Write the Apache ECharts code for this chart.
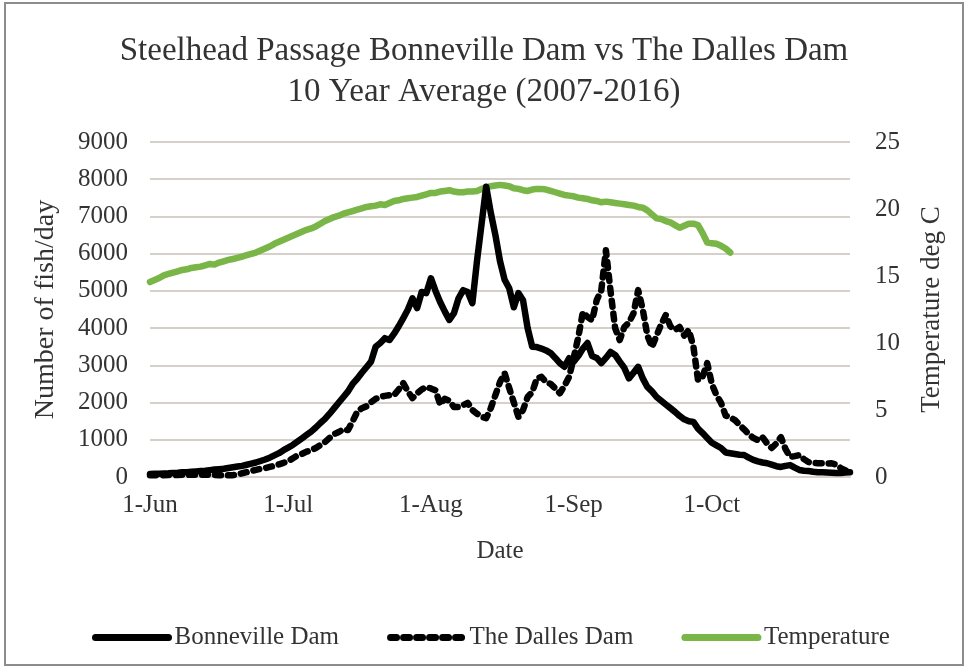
<!DOCTYPE html>
<html>
<head>
<meta charset="utf-8">
<script src="https://cdn.jsdelivr.net/npm/echarts@6/dist/echarts.min.js"></script>
<style>
  html, body { margin: 0; padding: 0; background: #fff; }
  #chart { width: 968px; height: 668px; }
</style>
</head>
<body>
<div id="chart"></div>
<script>
// month names and lengths, 1-Jun .. 31-Oct
var months = ['Jun', 'Jul', 'Aug', 'Sep', 'Oct'];
var monthDays = [30, 31, 31, 30, 31];

// fish per day, Bonneville Dam (one value per day)
var bonneville = [
  80, 85, 90, 95, 100, 110, 115, 125, 130, 140,
  150, 160, 170, 185, 200, 210, 220, 240, 260, 280,
  300, 330, 360, 390, 430, 470, 520, 580, 640, 720,
  790, 860, 950, 1040, 1130, 1220, 1330, 1450, 1560, 1700,
  1850, 2000, 2150, 2300, 2500, 2640, 2800, 2950, 3100, 3500,
  3600, 3730, 3680, 3850, 4050, 4270, 4500, 4800, 4540, 4970,
  4940, 5340, 5000, 4700, 4450, 4220, 4400, 4800, 5020, 4970,
  4670, 5800, 6800, 7800, 7100, 6500, 5800, 5300, 5070, 4560,
  4940, 4750, 4000, 3500, 3490, 3450, 3400, 3330, 3200, 3060,
  2960, 3190, 3100, 3250, 3450, 3600, 3250, 3200, 3060, 3200,
  3360, 3280, 3100, 2930, 2650, 2800, 2960, 2650, 2420, 2300,
  2150, 2050, 1950, 1850, 1750, 1640, 1550, 1500, 1480, 1300,
  1180, 1050, 920, 850, 780, 660, 640, 620, 600, 590,
  520, 460, 420, 390, 370, 330, 290, 270, 300, 320,
  250, 190, 170, 160, 140, 130, 125, 120, 115, 110,
  110, 120, 130
];

// fish per day, The Dalles Dam
var dalles = [
  50, 50, 45, 50, 55, 50, 55, 60, 55, 60,
  60, 60, 65, 60, 55, 50, 50, 45, 50, 70,
  100, 130, 160, 190, 220, 240, 270, 300, 340, 380,
  430, 500, 580, 620, 680, 720, 780, 860, 940, 1050,
  1150, 1210, 1280, 1260, 1500, 1750, 1850, 1900, 2010, 2100,
  2150, 2180, 2200, 2200, 2350, 2520, 2300, 2120, 2250, 2350,
  2420, 2380, 2330, 1950, 2100, 2050, 1880, 1880, 1930, 1990,
  1800, 1700, 1620, 1580, 1850, 2200, 2550, 2790, 2390, 2000,
  1620, 1800, 2150, 2280, 2650, 2690, 2550, 2500, 2380, 2250,
  2450, 2690, 3200, 3760, 4430, 4300, 4210, 4750, 5020, 6090,
  5000, 4000, 3680, 4030, 4150, 4400, 5020, 4500, 3800, 3490,
  3800, 4100, 4350, 4050, 3950, 4030, 3800, 3950, 3500, 2600,
  2700, 3060, 2500, 2200, 1990, 1650, 1600, 1530, 1400, 1280,
  1150, 1050, 990, 1070, 900, 780, 900, 1070, 750, 540,
  560, 590, 480, 400, 380, 370, 370, 360, 370, 330,
  240, 180, 130
];

// water temperature, deg C (ends early October)
var temperature = [
  14.55, 14.7, 14.85, 15.05, 15.15, 15.25, 15.35, 15.45, 15.5, 15.6,
  15.65, 15.7, 15.8, 15.9, 15.85, 16.0, 16.1, 16.2, 16.27, 16.35,
  16.45, 16.55, 16.65, 16.75, 16.9, 17.05, 17.2, 17.4, 17.55, 17.7,
  17.85, 18.0, 18.15, 18.3, 18.45, 18.55, 18.7, 18.9, 19.1, 19.25,
  19.4, 19.5, 19.65, 19.75, 19.85, 19.95, 20.05, 20.15, 20.2, 20.25,
  20.35, 20.3, 20.45, 20.6, 20.65, 20.75, 20.8, 20.85, 20.9, 21.0,
  21.1, 21.2, 21.2, 21.3, 21.35, 21.4, 21.3, 21.25, 21.25, 21.3,
  21.3, 21.35, 21.5, 21.6, 21.7, 21.75, 21.8, 21.75, 21.7, 21.55,
  21.5, 21.4, 21.35, 21.45, 21.5, 21.5, 21.45, 21.35, 21.25, 21.15,
  21.05, 21.0, 20.95, 20.85, 20.8, 20.75, 20.65, 20.6, 20.5, 20.55,
  20.5, 20.45, 20.4, 20.35, 20.3, 20.25, 20.15, 20.1, 19.9, 19.6,
  19.3, 19.25, 19.1, 19.0, 18.8, 18.6, 18.75, 18.9, 18.9, 18.8,
  18.2, 17.5, 17.45, 17.4, 17.25, 17.05, 16.75
];

var dates = [];
months.forEach(function (m, i) {
  for (var d = 1; d <= monthDays[i]; d++) dates.push(d + '-' + m);
});

var font = '"Liberation Serif", "DejaVu Serif", serif';
var txt = '#333';
var gridCol = '#d6d0cb';

var chart = echarts.init(document.getElementById('chart'));
chart.setOption({
  animation: false,
  backgroundColor: '#fff',
  textStyle: { fontFamily: font },
  graphic: [{
    type: 'rect',
    shape: { x: 5, y: 3, width: 958, height: 662 },
    style: { fill: 'none', stroke: '#8c8c8c', lineWidth: 2 }
  }],
  title: {
    text: 'Steelhead Passage Bonneville Dam vs The Dalles Dam\n10 Year Average (2007-2016)',
    left: 'center',
    top: 26,
    textStyle: { fontFamily: font, fontSize: 33, fontWeight: 'normal', color: txt, lineHeight: 41, align: 'center' }
  },
  legend: {
    left: 87,
    top: 620,
    itemWidth: 73,
    itemHeight: 14,
    itemGap: 48,
    itemStyle: { opacity: 0 },
    lineStyle: { width: 7 },
    textStyle: { fontFamily: font, fontSize: 25, color: txt, padding: [0, 0, 0, 1] },
    data: ['Bonneville Dam', 'The Dalles Dam', 'Temperature']
  },
  grid: { left: 150, right: 118, top: 142, bottom: 191 },
  xAxis: {
    type: 'category',
    data: dates,
    boundaryGap: false,
    name: 'Date',
    nameLocation: 'middle',
    nameGap: 62,
    nameTextStyle: { fontFamily: font, fontSize: 25, color: txt },
    axisLine: { lineStyle: { color: gridCol, width: 2 } },
    axisTick: { show: false },
    axisLabel: {
      interval: function (i, v) { return v.indexOf('1-') === 0; },
      fontFamily: font, fontSize: 25, color: txt, margin: 16
    },
    splitLine: { show: false }
  },
  yAxis: [{
    type: 'value',
    min: 0, max: 9000, interval: 1000,
    name: 'Number of fish/day',
    nameLocation: 'middle',
    nameGap: 90,
    nameTextStyle: { fontFamily: font, fontSize: 28, color: txt },
    axisLine: { show: false },
    axisTick: { show: false },
    axisLabel: {
      fontFamily: font, fontSize: 25, color: txt, margin: 22,
      formatter: function (v) { return String(v); }
    },
    splitLine: { lineStyle: { color: gridCol, width: 2 } }
  }, {
    type: 'value',
    min: 0, max: 25, interval: 5,
    name: 'Temperature deg C',
    nameLocation: 'middle',
    nameGap: 68,
    nameRotate: 90,
    nameTextStyle: { fontFamily: font, fontSize: 27, color: txt },
    axisLine: { show: false },
    axisTick: { show: false },
    axisLabel: { fontFamily: font, fontSize: 25, color: txt, margin: 25 },
    splitLine: { show: false }
  }],
  series: [{
    name: 'Bonneville Dam',
    type: 'line',
    data: bonneville,
    symbol: 'none',
    lineStyle: { color: '#000', width: 6.5, cap: 'round', join: 'round' },
    itemStyle: { color: '#000' },
    z: 3
  }, {
    name: 'The Dalles Dam',
    type: 'line',
    data: dalles,
    symbol: 'none',
    lineStyle: { color: '#000', width: 6.5, type: [6, 7], cap: 'round', join: 'round' },
    itemStyle: { color: '#000' },
    z: 2
  }, {
    name: 'Temperature',
    type: 'line',
    yAxisIndex: 1,
    data: temperature,
    symbol: 'none',
    lineStyle: { color: '#79b547', width: 6.5, cap: 'round', join: 'round' },
    itemStyle: { color: '#79b547' },
    z: 1
  }]
});
</script>
</body>
</html>
